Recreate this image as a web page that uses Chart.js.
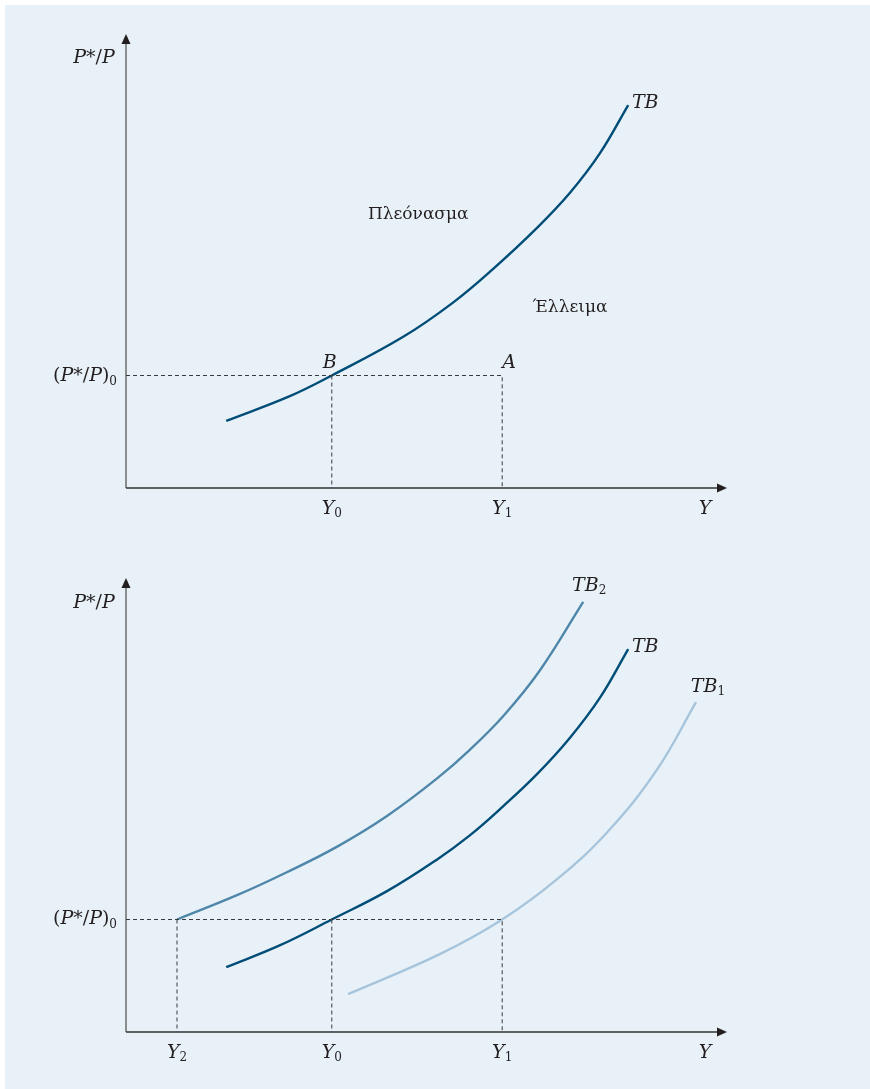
<!DOCTYPE html>
<html>
<head>
<meta charset="utf-8">
<script src="https://cdn.jsdelivr.net/npm/chart.js@4"></script>
<style>
  body { margin: 0; background: #fff; width: 870px; height: 1089px; position: relative; overflow: hidden; }
  #bg { position: absolute; left: 5px; top: 5px; right: 0; bottom: 0; background: #e8f1f8; }
  canvas { position: absolute; left: 0; }
  #top { top: 0; }
  #bottom { top: 544px; }
</style>
</head>
<body>
<div id="bg"></div>
<canvas id="top" width="870" height="544"></canvas>
<canvas id="bottom" width="870" height="545"></canvas>
<script>
// guide values (x = output Y, y = real exchange rate P*/P)
const level = 25;      // (P*/P)0
const yTwo = 8.5;      // Y2
const yZero = 34.3;    // Y0
const yOne = 62.7;     // Y1

// top panel: TB curve
const tbTopX = [16.7, 27.3, 34.3, 46.2, 54.5, 61.2, 68.5, 74.0, 79.0, 83.7];
const tbTopY = [14.9, 20.4, 25.0, 33.6, 41.2, 48.7, 57.8, 65.6, 74.4, 85.1];

// bottom panel: TB, TB2 and TB1
const tbX  = [16.7, 25.7, 34.3, 43.5, 51.8, 57.3, 62.8, 68.5, 74.0, 79.0, 83.7];
const tbY  = [14.4, 19.3, 25.0, 31.3, 38.3, 43.7, 50.1, 57.3, 65.4, 74.3, 85.1];
const tb2X = [8.5, 18.5, 26.8, 35.2, 43.5, 51.8, 57.3, 63.0, 69.0, 76.2];
const tb2Y = [25.0, 30.4, 35.5, 41.2, 48.0, 56.3, 62.7, 70.4, 80.4, 95.6];
const tb1X = [37.0, 52.3, 62.7, 71.8, 80.2, 88.5, 95.0];
const tb1Y = [8.4, 17.3, 25.0, 33.9, 44.4, 58.3, 73.3];

const ink = "#231f20";
const serif = "'DejaVu Serif', 'Liberation Serif', serif";

const zip = (xs, ys) => xs.map((x, i) => ({x: x, y: ys[i]}));

const curve = (xs, ys, color) => ({
    data: zip(xs, ys),
    borderColor: color,
    borderWidth: 2.4,
    pointRadius: 0,
    tension: 0.4,
    fill: false
});

const guide = (points) => ({
    data: points,
    borderColor: "#3a3a3a",
    borderWidth: 1,
    borderDash: [4, 3],
    pointRadius: 0,
    tension: 0,
    fill: false
});

const fontOf = (run) => {
    if (run.s === "sub") return `12px ${serif}`;
    return `${run.i ? "italic " : ""}19px ${serif}`;
};

const drawRuns = (ctx, runs, x, y, align) => {
    let widths = runs.map(run => {
        ctx.font = fontOf(run);
        return ctx.measureText(run.t).width;
    });
    let total = widths.reduce((a, b) => a + b, 0);
    let start = align === "right" ? x - total : align === "center" ? x - total / 2 : x;
    ctx.textBaseline = "middle";
    ctx.textAlign = "left";
    ctx.fillStyle = ink;
    runs.forEach((run, i) => {
        ctx.font = fontOf(run);
        ctx.fillText(run.t, start, y + (run.s === "sub" ? 5 : 0));
        start += widths[i];
    });
};

const yRatio = [{t: "P", i: true}, {t: "*/"}, {t: "P", i: true}];
const yRatioZero = [{t: "("}, {t: "P", i: true}, {t: "*/"}, {t: "P", i: true}, {t: ")"}, {t: "0", s: "sub"}];
const sym = (letter, sub) => sub ? [{t: letter, i: true}, {t: sub, s: "sub"}] : [{t: letter, i: true}];

// axes with arrows and text labels, placed through the scales
const diagramPlugin = (labels) => ({
    id: "diagram",
    beforeDatasetsDraw(chart) {
        const ctx = chart.ctx;
        const xs = chart.scales.x, ys = chart.scales.y;
        const ox = xs.getPixelForValue(0), oy = ys.getPixelForValue(0);
        const topY = ys.getPixelForValue(100) - 4;
        const rightX = xs.getPixelForValue(100) + 1;
        ctx.save();
        ctx.lineWidth = 1.5;
        ctx.strokeStyle = "#6d6d6d";
        ctx.beginPath();
        ctx.moveTo(ox, oy);
        ctx.lineTo(ox, topY + 8);
        ctx.stroke();
        ctx.strokeStyle = "#333";
        ctx.beginPath();
        ctx.moveTo(ox, oy);
        ctx.lineTo(rightX - 8, oy);
        ctx.stroke();
        ctx.fillStyle = ink;
        ctx.beginPath();
        ctx.moveTo(ox, topY);
        ctx.lineTo(ox - 4.5, topY + 10);
        ctx.lineTo(ox + 4.5, topY + 10);
        ctx.closePath();
        ctx.fill();
        ctx.beginPath();
        ctx.moveTo(rightX, oy);
        ctx.lineTo(rightX - 10, oy - 4.5);
        ctx.lineTo(rightX - 10, oy + 4.5);
        ctx.closePath();
        ctx.fill();
        ctx.restore();
    },
    afterDatasetsDraw(chart) {
        const ctx = chart.ctx;
        const xs = chart.scales.x, ys = chart.scales.y;
        ctx.save();
        labels.forEach(label => {
            const px = xs.getPixelForValue(label.x) + (label.dx || 0);
            const py = ys.getPixelForValue(label.y) + (label.dy || 0);
            if (label.plain) {
                ctx.font = `17px ${serif}`;
                ctx.fillStyle = ink;
                ctx.textAlign = "center";
                ctx.textBaseline = "middle";
                ctx.fillText(label.plain, px, py);
            } else {
                drawRuns(ctx, label.runs, px, py, label.align || "center");
            }
        });
        ctx.restore();
    }
});

const makeChart = (id, datasets, labels, padBottom) => {
    new Chart(document.getElementById(id), {
        type: "line",
        data: {datasets: datasets},
        options: {
            responsive: false,
            animation: false,
            events: [],
            layout: {padding: {left: 126, right: 144, top: 38, bottom: padBottom}},
            plugins: {legend: {display: false}, tooltip: {enabled: false}},
            scales: {
                x: {type: "linear", min: 0, max: 100, display: false},
                y: {type: "linear", min: 0, max: 100, display: false}
            }
        },
        plugins: [diagramPlugin(labels)]
    });
};

makeChart("top", [
    guide([{x: 0, y: level}, {x: yOne, y: level}, {x: yOne, y: 0}]),
    guide([{x: yZero, y: level}, {x: yZero, y: 0}]),
    curve(tbTopX, tbTopY, "#004d78")
], [
    {x: 0, y: 100, dx: -32, dy: 20, runs: yRatio},
    {x: 0, y: level, dx: -9, dy: 1, runs: yRatioZero, align: "right"},
    {x: yZero, y: 0, dy: 21, runs: sym("Y", "0")},
    {x: yOne, y: 0, dy: 21, runs: sym("Y", "1")},
    {x: 100, y: 0, dx: -21, dy: 21, runs: sym("Y")},
    {x: yZero, y: level, dx: -2, dy: -12, runs: sym("B")},
    {x: yOne, y: level, dx: 7, dy: -12, runs: sym("A")},
    {x: 83.7, y: 85.1, dx: 17, dy: -2, runs: sym("TB")},
    {x: 48.7, y: 60.7, plain: "Πλεόνασμα"},
    {x: 74.0, y: 40.2, plain: "Έλλειμα"}
], 56);

makeChart("bottom", [
    guide([{x: 0, y: level}, {x: yOne, y: level}, {x: yOne, y: 0}]),
    guide([{x: yZero, y: level}, {x: yZero, y: 0}]),
    guide([{x: yTwo, y: level}, {x: yTwo, y: 0}]),
    curve(tb1X, tb1Y, "#a6c5dc"),
    curve(tb2X, tb2Y, "#4f87aa"),
    curve(tbX, tbY, "#004d78")
], [
    {x: 0, y: 100, dx: -32, dy: 21, runs: yRatio},
    {x: 0, y: level, dx: -9, dy: 0, runs: yRatioZero, align: "right"},
    {x: yTwo, y: 0, dy: 21, runs: sym("Y", "2")},
    {x: yZero, y: 0, dy: 21, runs: sym("Y", "0")},
    {x: yOne, y: 0, dy: 21, runs: sym("Y", "1")},
    {x: 100, y: 0, dx: -21, dy: 21, runs: sym("Y")},
    {x: 76.2, y: 95.6, dx: 6, dy: -16, runs: sym("TB", "2")},
    {x: 83.7, y: 85.1, dx: 17, dy: -2, runs: sym("TB")},
    {x: 95.0, y: 73.3, dx: 12, dy: -15, runs: sym("TB", "1")}
], 57);
</script>
</body>
</html>
